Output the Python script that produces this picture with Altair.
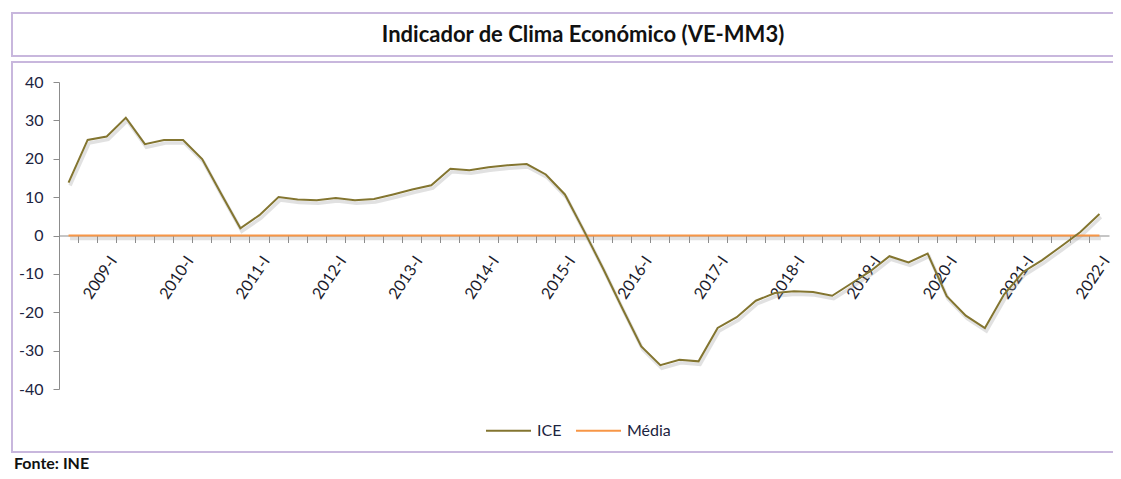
import altair as alt
import pandas as pd

categories = [
    "2008-III", "2008-IV",
    "2009-I", "2009-II", "2009-III", "2009-IV",
    "2010-I", "2010-II", "2010-III", "2010-IV",
    "2011-I", "2011-II", "2011-III", "2011-IV",
    "2012-I", "2012-II", "2012-III", "2012-IV",
    "2013-I", "2013-II", "2013-III", "2013-IV",
    "2014-I", "2014-II", "2014-III", "2014-IV",
    "2015-I", "2015-II", "2015-III", "2015-IV",
    "2016-I", "2016-II", "2016-III", "2016-IV",
    "2017-I", "2017-II", "2017-III", "2017-IV",
    "2018-I", "2018-II", "2018-III", "2018-IV",
    "2019-I", "2019-II", "2019-III", "2019-IV",
    "2020-I", "2020-II", "2020-III", "2020-IV",
    "2021-I", "2021-II", "2021-III", "2021-IV",
    "2022-I",
]

ice = [
    13.8, 24.9,
    25.8, 30.7, 23.8, 24.9,
    24.9, 19.9, 10.8, 1.9,
    5.3, 10.0, 9.4, 9.2,
    9.8, 9.2, 9.5, 10.7,
    12.0, 13.1, 17.4, 17.0,
    17.8, 18.3, 18.6, 15.9,
    10.7, 1.2, -8.6, -18.9,
    -28.9, -33.8, -32.4, -32.8,
    -24.1, -21.3, -17.0, -15.0,
    -14.5, -14.7, -15.7, -12.5,
    -9.3, -5.4, -7.0, -4.7,
    -15.8, -20.9, -24.1, -15.4,
    -9.5, -6.4, -2.8, 0.9,
    5.6,
]

media = [
    0.0, 0.0,
    0.0, 0.0, 0.0, 0.0,
    0.0, 0.0, 0.0, 0.0,
    0.0, 0.0, 0.0, 0.0,
    0.0, 0.0, 0.0, 0.0,
    0.0, 0.0, 0.0, 0.0,
    0.0, 0.0, 0.0, 0.0,
    0.0, 0.0, 0.0, 0.0,
    0.0, 0.0, 0.0, 0.0,
    0.0, 0.0, 0.0, 0.0,
    0.0, 0.0, 0.0, 0.0,
    0.0, 0.0, 0.0, 0.0,
    0.0, 0.0, 0.0, 0.0,
    0.0, 0.0, 0.0, 0.0,
    0.0,
]

series_names = ["ICE", "Média"]
series_colors = ["#837530", "#f79646"]
y_ticks = [-40, -30, -20, -10, 0, 10, 20, 30, 40]

title_text = "Indicador de Clima Económico (VE-MM3)"
source_text = "Fonte: INE"

rows = []
for c, v in zip(categories, media):
    rows.append({"periodo": c, "valor": v, "serie": "Média"})
for c, v in zip(categories, ice):
    rows.append({"periodo": c, "valor": v, "serie": "ICE"})
df = pd.DataFrame(rows)
one = pd.DataFrame({"k": [0]})

FONT = "Lato"
W, H = 1050, 307

x_enc = alt.X(
    "periodo:O",
    sort=categories,
    scale=alt.Scale(type="band", paddingInner=0, paddingOuter=0),
    axis=alt.Axis(
        title=None,
        bandPosition=0,
        offset=-H / 2,
        labelAngle=-56,
        labelExpr="slice(datum.label, -2) == '-I' ? datum.label : ''",
        labelOverlap=False,
        labelOffset=7,
        labelPadding=15,
        tickSize=7,
        domainColor="#8c8c8c",
        tickColor="#8c8c8c",
        labelFontSize=16,
        labelColor="#1c1c2c",
        labelFont=FONT,
    ),
)
y_enc = alt.Y(
    "valor:Q",
    scale=alt.Scale(domain=[-40, 40], nice=False, zero=False),
    axis=alt.Axis(
        title=None,
        values=y_ticks,
        grid=False,
        labelExpr="datum.value + ''",
        tickSize=6,
        labelPadding=10,
        domainColor="#8c8c8c",
        tickColor="#8c8c8c",
        labelFontSize=16,
        labelColor="#1c2440",
        labelFont=FONT,
    ),
)

box_color = "#c8b7dd"


def hline(yv):
    return alt.Chart(one).mark_rule(color=box_color, strokeWidth=2).encode(
        x=alt.value(-48), x2=alt.value(1080), y=alt.value(yv)
    )


def vline(y1, y2):
    return alt.Chart(one).mark_rule(color=box_color, strokeWidth=2).encode(
        x=alt.value(-47), y=alt.value(y1), y2=alt.value(y2)
    )


box_layers = [
    hline(-69), hline(-26), vline(-69, -26),
    hline(-20), hline(370), vline(-20, 370),
]

shadow = alt.Chart(df).mark_line(
    color="#9a9a9a", opacity=0.3, strokeWidth=3.5, xOffset=1.5, yOffset=3
).encode(x=x_enc, y=y_enc, detail="serie:N")

lines = alt.Chart(df).mark_line(strokeWidth=2).encode(
    x=x_enc,
    y=y_enc,
    color=alt.Color(
        "serie:N",
        scale=alt.Scale(domain=series_names, range=series_colors),
        legend=alt.Legend(
            title=None,
            orient="none",
            legendX=426,
            legendY=325,
            direction="horizontal",
            symbolType="stroke",
            symbolSize=2025,
            symbolStrokeWidth=2,
            labelFontSize=16,
            labelFont=FONT,
            labelColor="#1c2440",
            labelOffset=5,
            columnPadding=10,
        ),
    ),
    order=alt.Order("serie:N"),
)

title_mark = alt.Chart(one).mark_text(
    font=FONT, fontSize=22, fontWeight="bold", color="#111111", align="center", baseline="middle"
).encode(x=alt.value(524), y=alt.value(-47), text=alt.value(title_text))

source_mark = alt.Chart(one).mark_text(
    font=FONT, fontSize=16, fontWeight="bold", color="#111111", align="left", baseline="middle"
).encode(x=alt.value(-45), y=alt.value(382), text=alt.value(source_text))

chart = alt.layer(*box_layers, shadow, lines, title_mark, source_mark).properties(
    width=W,
    height=H,
    padding={"left": 51, "top": 74, "right": 4, "bottom": 82},
    autosize=alt.AutoSizeParams(type="none"),
).configure_view(stroke=None)

chart.save("out.html", embed_options={"renderer": "svg", "actions": False})
